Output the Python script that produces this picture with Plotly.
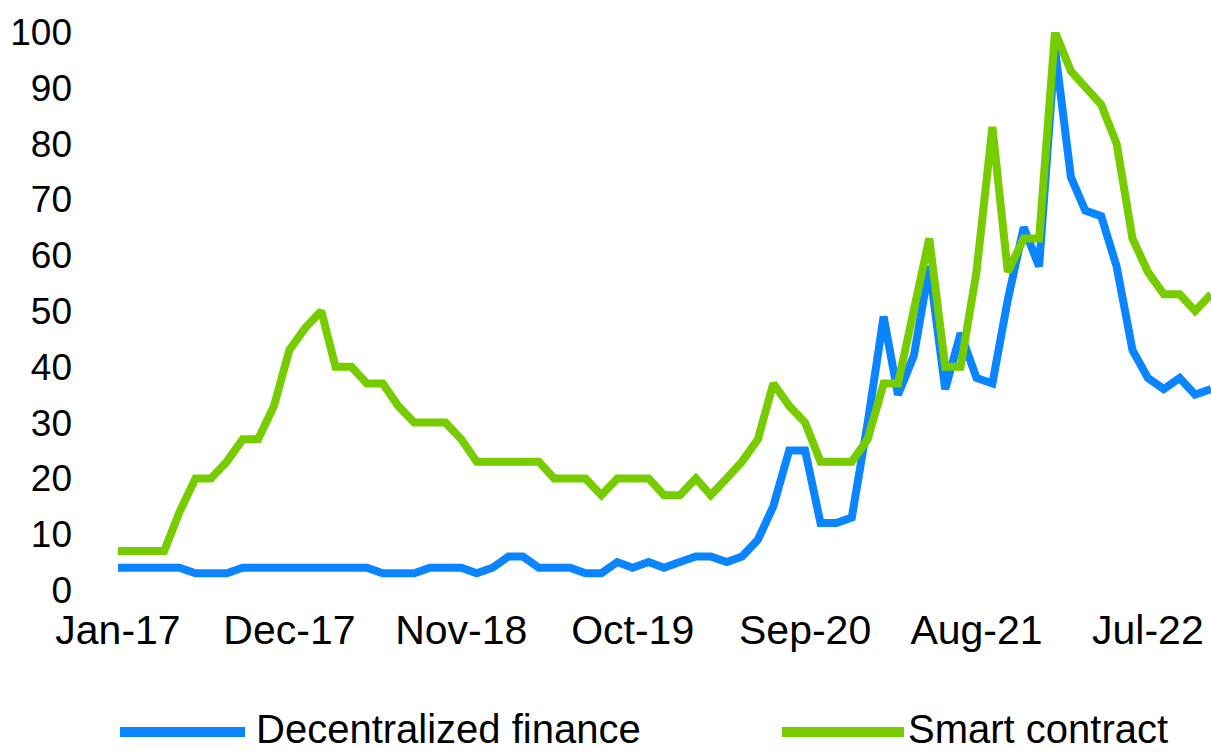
import plotly.graph_objects as go

# ---- data -------------------------------------------------------------
months = []
for yr in range(2017, 2023):
    for m in range(1, 13):
        months.append(f"{yr}-{m:02d}-01")
months = months[:71]  # Jan-2017 .. Nov-2022

defi = [4, 4, 4, 4, 4, 3, 3, 3, 4, 4, 4, 4, 4, 4, 4, 4, 4, 3, 3, 3,
        4, 4, 4, 3, 4, 6, 6, 4, 4, 4, 3, 3, 5, 4, 5, 4, 5, 6, 6, 5,
        6, 9, 15, 25, 25, 12, 12, 13, 30, 49, 35, 42, 58, 36, 46, 38, 37, 52, 65, 58,
        97, 74, 68, 67, 58, 43, 38, 36, 38, 35, 36]

smart = [7, 7, 7, 7, 14, 20, 20, 23, 27, 27, 33, 43, 47, 50, 40, 40, 37, 37, 33, 30,
         30, 30, 27, 23, 23, 23, 23, 23, 20, 20, 20, 17, 20, 20, 20, 17, 17, 20, 17, 20,
         23, 27, 37, 33, 30, 23, 23, 23, 27, 37, 37, 50, 63, 40, 40, 57, 83, 57, 63, 63,
         100, 93, 90, 87, 80, 63, 57, 53, 53, 50, 53]

tick_vals = ["2017-01-01", "2017-12-01", "2018-11-01", "2019-10-01",
             "2020-09-01", "2021-08-01", "2022-07-01"]
tick_text = ["Jan-17", "Dec-17", "Nov-18", "Oct-19", "Sep-20", "Aug-21", "Jul-22"]
y_ticks = [0, 10, 20, 30, 40, 50, 60, 70, 80, 90, 100]

series_names = ["Decentralized finance", "Smart contract"]
colors = ["#0A84FF", "#77CC00"]

# ---- figure -----------------------------------------------------------
FONT = "Liberation Sans, Arial, sans-serif"
W, H = 1211, 754
ML, MR, MT, MB = 118, 0, 32, 164
pw, ph = W - ML - MR, H - MT - MB

fig = go.Figure()
for name, vals, col in zip(series_names, [defi, smart], colors):
    fig.add_trace(go.Scatter(x=months, y=vals, mode="lines", name=name,
                             line=dict(color=col, width=8), showlegend=False))

def px_x(p):
    return (p - ML) / pw

def px_y(p):
    return (H - MB - p) / ph

legend_y = 732
text_y = 729
shapes = []
annos = []
for (x0, x1, tx), name, col in zip([(120, 245, 254), (782, 904, 906)], series_names, colors):
    shapes.append(dict(type="line", xref="paper", yref="paper",
                       x0=px_x(x0), x1=px_x(x1), y0=px_y(legend_y), y1=px_y(legend_y),
                       line=dict(color=col, width=10)))
    annos.append(dict(xref="paper", yref="paper", x=px_x(tx), y=px_y(text_y),
                      xanchor="left", yanchor="middle", text=name, showarrow=False,
                      font=dict(family=FONT, size=40, color="#000000")))

fig.update_layout(
    width=W, height=H, autosize=False,
    margin=dict(l=ML, r=MR, t=MT, b=MB, pad=0),
    paper_bgcolor="white", plot_bgcolor="white",
    font=dict(family=FONT, size=39, color="#000000"),
    shapes=shapes, annotations=annos,
    xaxis=dict(type="date", range=[months[0], months[-1]], tickvals=tick_vals,
               ticktext=tick_text, showgrid=False, zeroline=False, showline=False,
               ticks="", ticklabelstandoff=12, tickfont=dict(size=41)),
    yaxis=dict(range=[0, 100], tickvals=y_ticks, showgrid=False,
               zeroline=False, showline=False, ticks="", ticklabelstandoff=45,
               tickfont=dict(size=37)),
)
fig.update_traces(cliponaxis=False)

fig.write_html("out.html", config={"displayModeBar": False},
               post_script="document.body.style.margin='0';")
